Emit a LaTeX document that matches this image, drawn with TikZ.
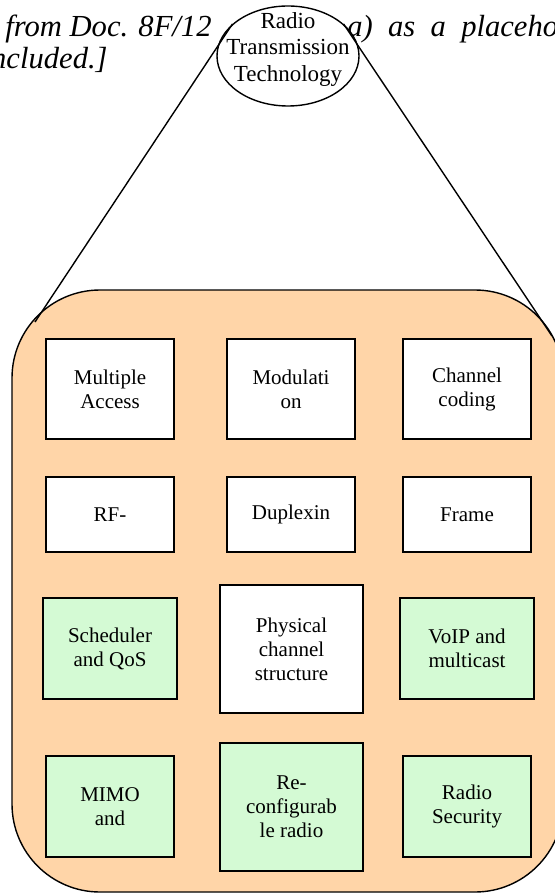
\documentclass[tikz,border=0pt]{standalone}
\usepackage{fontspec}
\setmainfont{Liberation Serif}
\usetikzlibrary{shapes.geometric}
\definecolor{panelorange}{RGB}{255,213,168}
\definecolor{boxgreen}{RGB}{212,250,212}
\begin{document}
\begin{tikzpicture}[x=0.5pt,y=-0.5pt,
    part/.style={draw,line width=0.9pt,fill=white,inner sep=0pt,outer sep=0pt,
      align=center,font=\fontsize{10.5}{12}\selectfont},
    newpart/.style={part,fill=boxgreen},
    pagetext/.style={font=\fontsize{15.3}{16}\selectfont\itshape,inner sep=0pt},
    link/.style={line width=0.7pt}]
    \useasboundingbox (0,0) rectangle (555,893);
    \clip (0,0) rectangle (555,893);
    % text of the page behind the figure
    \node[pagetext,anchor=base east] (docleft) at (212,37) {from Doc. 8F/12};
    \node[pagetext,anchor=base west] (docright) at (347,37)
      {a)\hspace{0.5em}as\hspace{0.5em}a\hspace{0.5em}placehol};
    \node[pagetext,anchor=base east] (docend) at (108,69) {ncluded.]};
    % panel and the bubble above it
    \node[draw,link,fill=panelorange,rounded corners=44pt,inner sep=0pt,
      minimum width=275.5pt,minimum height=301pt] (panel) at (287.5,591) {};
    \coordinate (panelnw) at (35,322);
    \coordinate (panelne) at (552,336);
    \node[draw,link,fill=white,ellipse,inner sep=0pt,
      minimum width=71pt,minimum height=50pt] (rtt) at (288,56) {};
    \node[align=center,inner sep=0pt,font=\fontsize{11.5}{13.3}\selectfont] (rttlabel)
      at (288,49.4) {Radio\\Transmission\\Technology};
    \draw[link] (rtt.150) -- (panelnw);
    \draw[link] (rtt.30) -- (panelne);
    % row 1
    \node[part,minimum width=64pt,minimum height=50pt] (access) at (110,389) {Multiple\\Access};
    \node[part,minimum width=64pt,minimum height=50pt] (modul) at (291,389) {Modulati\\on};
    \node[part,minimum width=64pt,minimum height=50pt] (coding) at (467,389) {Channel\\coding};
    % row 2
    \node[part,minimum width=64pt,minimum height=37.5pt] (rf) at (110,514.5) {RF-};
    \node[part,minimum width=64pt,minimum height=37.5pt] (duplex) at (291,514.5) {Duplexin};
    \node[part,minimum width=64pt,minimum height=37.5pt] (frame) at (467,514.5) {Frame};
    % row 3
    \node[newpart,minimum width=67pt,minimum height=50.5pt] (sched) at (110,648.5) {Scheduler\\and QoS};
    \node[part,minimum width=71.5pt,minimum height=64pt] (phych) at (291.5,649) {Physical\\channel\\structure};
    \node[newpart,minimum width=67pt,minimum height=50.5pt] (voip) at (467,648.5) {VoIP and\\multicast};
    % row 4
    \node[newpart,minimum width=64pt,minimum height=50.5pt] (mimo) at (110,806.5) {MIMO\\and};
    \node[newpart,minimum width=71.5pt,minimum height=64pt] (reconf) at (291.5,807) {Re-\\configurab\\le radio};
    \node[newpart,minimum width=64pt,minimum height=50.5pt] (security) at (467,806.5) {Radio\\Security};
\end{tikzpicture}
\end{document}
